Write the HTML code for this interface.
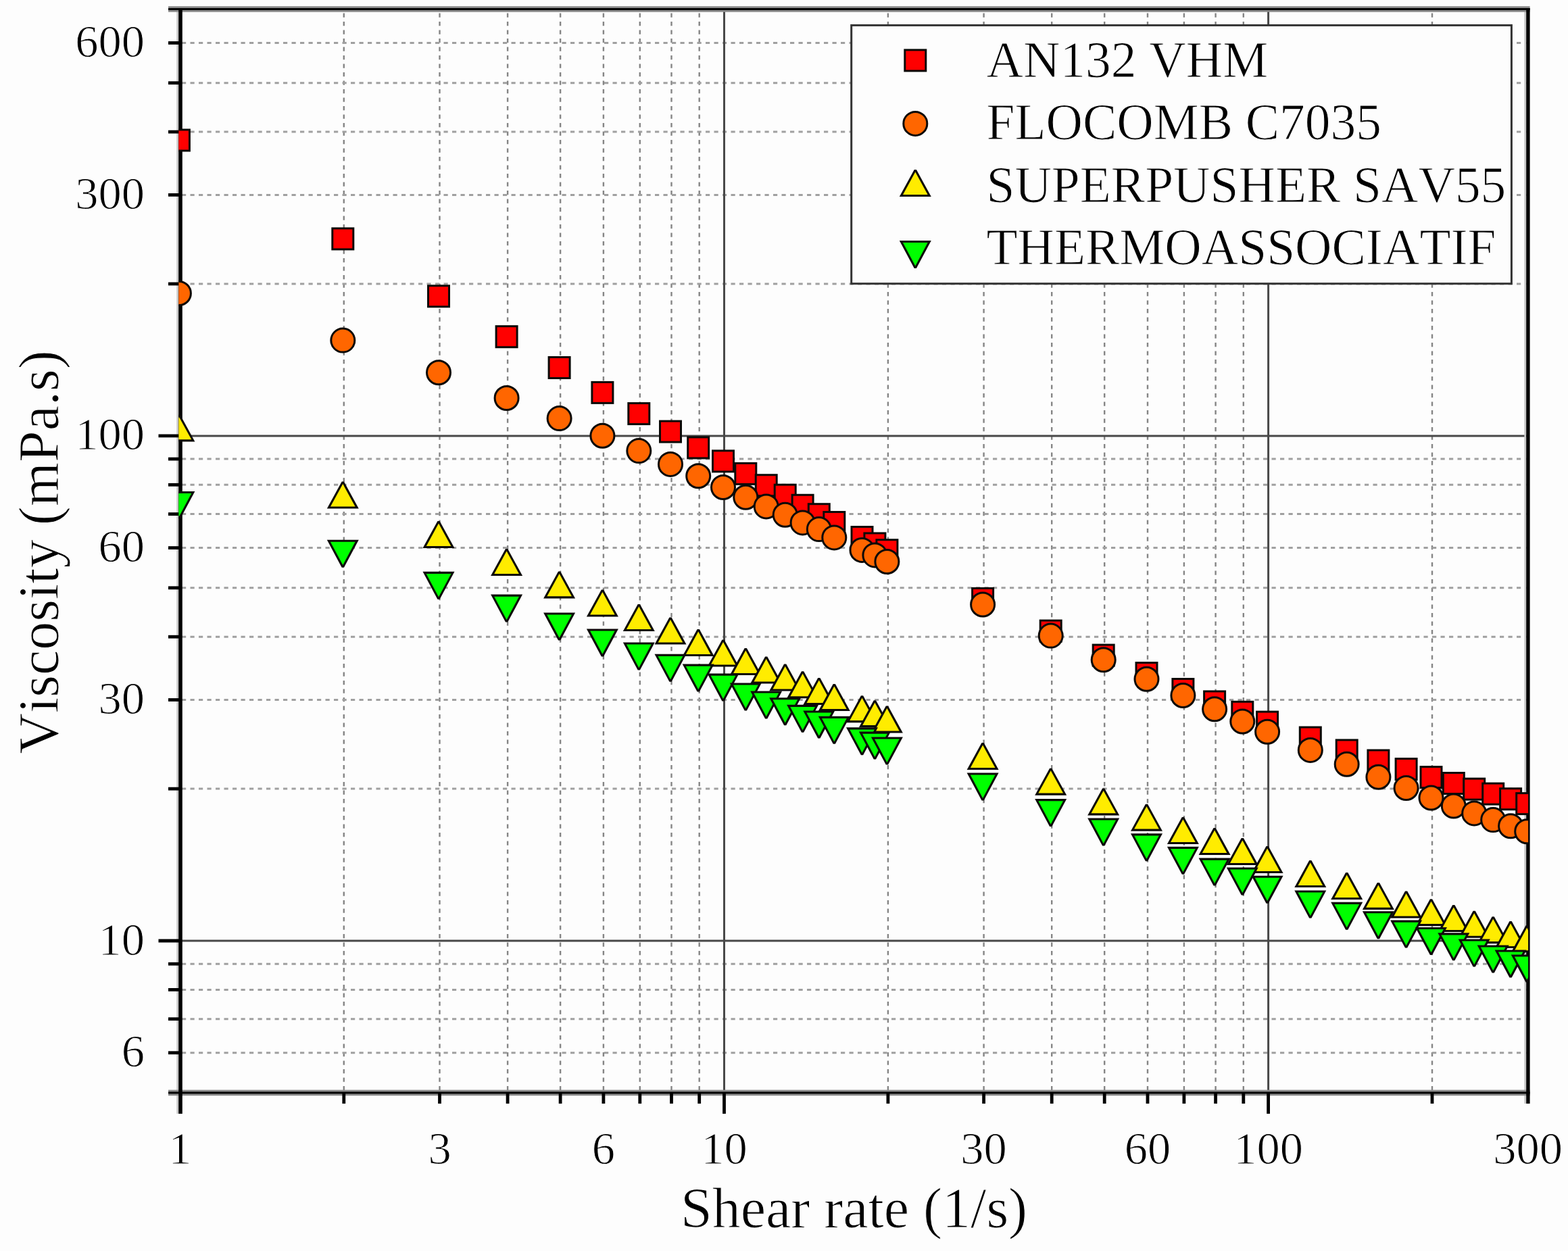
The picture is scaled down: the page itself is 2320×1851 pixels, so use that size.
<!DOCTYPE html>
<html lang="en">
<head>
<meta charset="utf-8">
<title>Viscosity vs shear rate</title>
<style>
html,body{margin:0;padding:0;background:#fdfdfd;}
body{width:2320px;height:1851px;overflow:hidden;font-family:"Liberation Serif",serif;}
svg{display:block;}
#ticklabels,#xtitle,#ytitle,#legtext{filter:none;}
</style>
</head>
<body>
<div id="chart">
<svg width="2320" height="1851" viewBox="0 0 2320 1851" font-family="'Liberation Serif', serif" fill="#000" style="font-kerning:none">
<style>text{stroke:#fdfdfd;stroke-width:1.0px;stroke-linejoin:round}</style>
<rect width="2320" height="1851" fill="#fdfdfd"/>
<defs><clipPath id="pc"><rect x="264.4" y="13.5" width="1996.7" height="1603.4"/></clipPath></defs>
<g id="grid"><g stroke="#858585" stroke-width="2.4" stroke-dasharray="6.2 6.3" fill="none"><line x1="508.8" y1="19.5" x2="508.8" y2="1616.9"/><line x1="650.5" y1="19.5" x2="650.5" y2="1616.9"/><line x1="751.1" y1="19.5" x2="751.1" y2="1616.9"/><line x1="829.1" y1="19.5" x2="829.1" y2="1616.9"/><line x1="892.9" y1="19.5" x2="892.9" y2="1616.9"/><line x1="946.8" y1="19.5" x2="946.8" y2="1616.9"/><line x1="993.5" y1="19.5" x2="993.5" y2="1616.9"/><line x1="1034.7" y1="19.5" x2="1034.7" y2="1616.9"/><line x1="1313.9" y1="19.5" x2="1313.9" y2="1616.9"/><line x1="1455.6" y1="19.5" x2="1455.6" y2="1616.9"/><line x1="1556.2" y1="19.5" x2="1556.2" y2="1616.9"/><line x1="1634.2" y1="19.5" x2="1634.2" y2="1616.9"/><line x1="1698" y1="19.5" x2="1698" y2="1616.9"/><line x1="1751.9" y1="19.5" x2="1751.9" y2="1616.9"/><line x1="1798.6" y1="19.5" x2="1798.6" y2="1616.9"/><line x1="1839.8" y1="19.5" x2="1839.8" y2="1616.9"/><line x1="2119" y1="19.5" x2="2119" y2="1616.9"/></g><g stroke="#a0a0a0" stroke-width="3.0" stroke-dasharray="6.2 6.3" fill="none"><line x1="269" y1="1557.7" x2="2260.8" y2="1557.7"/><line x1="269" y1="1507.7" x2="2260.8" y2="1507.7"/><line x1="269" y1="1464.4" x2="2260.8" y2="1464.4"/><line x1="269" y1="1426.2" x2="2260.8" y2="1426.2"/><line x1="269" y1="1167.1" x2="2260.8" y2="1167.1"/><line x1="269" y1="1035.5" x2="2260.8" y2="1035.5"/><line x1="269" y1="942.2" x2="2260.8" y2="942.2"/><line x1="269" y1="869.8" x2="2260.8" y2="869.8"/><line x1="269" y1="810.6" x2="2260.8" y2="810.6"/><line x1="269" y1="760.6" x2="2260.8" y2="760.6"/><line x1="269" y1="717.3" x2="2260.8" y2="717.3"/><line x1="269" y1="679.1" x2="2260.8" y2="679.1"/><line x1="269" y1="420" x2="2260.8" y2="420"/><line x1="269" y1="288.4" x2="2260.8" y2="288.4"/><line x1="269" y1="195.1" x2="2260.8" y2="195.1"/><line x1="269" y1="122.7" x2="2260.8" y2="122.7"/><line x1="269" y1="63.5" x2="2260.8" y2="63.5"/></g><g stroke="#484848" stroke-width="3" fill="none"><line x1="1071.5" y1="13.5" x2="1071.5" y2="1616.9"/><line x1="267" y1="1392" x2="2260.8" y2="1392"/><line x1="1876.6" y1="13.5" x2="1876.6" y2="1616.9"/><line x1="267" y1="644.9" x2="2260.8" y2="644.9"/></g></g>
<g id="axes"><rect x="261.4" y="13.5" width="2.9" height="1634.4" fill="#c6c6c6"/><rect x="2255.3" y="13.5" width="2.9" height="1619.4" fill="#c6c6c6"/><rect x="249" y="9.2" width="2014.6" height="8.6" fill="#8c8c8c"/><rect x="249" y="12" width="2014.6" height="3" fill="#000"/><rect x="249" y="1612.6" width="2014.6" height="8.6" fill="#8c8c8c"/><rect x="249" y="1615.4" width="2014.6" height="3" fill="#000"/><rect x="264.2" y="12" width="5.6" height="1635.9" fill="#000"/><rect x="2258.2" y="12" width="5.4" height="1620.9" fill="#000"/><g stroke="#000" stroke-width="4.8" fill="none"><line x1="249" y1="1557.7" x2="267" y2="1557.7"/><line x1="249" y1="1507.7" x2="267" y2="1507.7"/><line x1="249" y1="1464.4" x2="267" y2="1464.4"/><line x1="249" y1="1426.2" x2="267" y2="1426.2"/><line x1="249" y1="1167.1" x2="267" y2="1167.1"/><line x1="249" y1="1035.5" x2="267" y2="1035.5"/><line x1="249" y1="942.2" x2="267" y2="942.2"/><line x1="249" y1="869.8" x2="267" y2="869.8"/><line x1="249" y1="810.6" x2="267" y2="810.6"/><line x1="249" y1="760.6" x2="267" y2="760.6"/><line x1="249" y1="717.3" x2="267" y2="717.3"/><line x1="249" y1="679.1" x2="267" y2="679.1"/><line x1="249" y1="420" x2="267" y2="420"/><line x1="249" y1="288.4" x2="267" y2="288.4"/><line x1="249" y1="195.1" x2="267" y2="195.1"/><line x1="249" y1="122.7" x2="267" y2="122.7"/><line x1="249" y1="63.5" x2="267" y2="63.5"/><line x1="234.5" y1="1392" x2="267" y2="1392"/><line x1="234.5" y1="644.9" x2="267" y2="644.9"/><line x1="508.8" y1="1616.9" x2="508.8" y2="1632.9"/><line x1="650.5" y1="1616.9" x2="650.5" y2="1632.9"/><line x1="751.1" y1="1616.9" x2="751.1" y2="1632.9"/><line x1="829.1" y1="1616.9" x2="829.1" y2="1632.9"/><line x1="892.9" y1="1616.9" x2="892.9" y2="1632.9"/><line x1="946.8" y1="1616.9" x2="946.8" y2="1632.9"/><line x1="993.5" y1="1616.9" x2="993.5" y2="1632.9"/><line x1="1034.7" y1="1616.9" x2="1034.7" y2="1632.9"/><line x1="1313.9" y1="1616.9" x2="1313.9" y2="1632.9"/><line x1="1455.6" y1="1616.9" x2="1455.6" y2="1632.9"/><line x1="1556.2" y1="1616.9" x2="1556.2" y2="1632.9"/><line x1="1634.2" y1="1616.9" x2="1634.2" y2="1632.9"/><line x1="1698" y1="1616.9" x2="1698" y2="1632.9"/><line x1="1751.9" y1="1616.9" x2="1751.9" y2="1632.9"/><line x1="1798.6" y1="1616.9" x2="1798.6" y2="1632.9"/><line x1="1839.8" y1="1616.9" x2="1839.8" y2="1632.9"/><line x1="2119" y1="1616.9" x2="2119" y2="1632.9"/><line x1="1071.5" y1="1616.9" x2="1071.5" y2="1647.9"/><line x1="1876.6" y1="1616.9" x2="1876.6" y2="1647.9"/></g></g>
<g id="data" clip-path="url(#pc)"><rect x="249.4" y="192" width="31" height="31" fill="#ff0000" stroke="#0c0a08" stroke-width="3.0"/><rect x="491.8" y="337.9" width="31" height="31" fill="#ff0000" stroke="#0c0a08" stroke-width="3.0"/><rect x="633.5" y="422.8" width="31" height="31" fill="#ff0000" stroke="#0c0a08" stroke-width="3.0"/><rect x="734.1" y="482.7" width="31" height="31" fill="#ff0000" stroke="#0c0a08" stroke-width="3.0"/><rect x="812.1" y="528.5" width="31" height="31" fill="#ff0000" stroke="#0c0a08" stroke-width="3.0"/><rect x="875.9" y="565.4" width="31" height="31" fill="#ff0000" stroke="#0c0a08" stroke-width="3.0"/><rect x="929.8" y="596.6" width="31" height="31" fill="#ff0000" stroke="#0c0a08" stroke-width="3.0"/><rect x="976.5" y="623.1" width="31" height="31" fill="#ff0000" stroke="#0c0a08" stroke-width="3.0"/><rect x="1017.7" y="646.9" width="31" height="31" fill="#ff0000" stroke="#0c0a08" stroke-width="3.0"/><rect x="1054.5" y="666.9" width="31" height="31" fill="#ff0000" stroke="#0c0a08" stroke-width="3.0"/><rect x="1087.8" y="685.4" width="31" height="31" fill="#ff0000" stroke="#0c0a08" stroke-width="3.0"/><rect x="1118.2" y="702.7" width="31" height="31" fill="#ff0000" stroke="#0c0a08" stroke-width="3.0"/><rect x="1146.2" y="717.2" width="31" height="31" fill="#ff0000" stroke="#0c0a08" stroke-width="3.0"/><rect x="1172.1" y="732.3" width="31" height="31" fill="#ff0000" stroke="#0c0a08" stroke-width="3.0"/><rect x="1196.3" y="745.7" width="31" height="31" fill="#ff0000" stroke="#0c0a08" stroke-width="3.0"/><rect x="1218.8" y="757.5" width="31" height="31" fill="#ff0000" stroke="#0c0a08" stroke-width="3.0"/><rect x="1260" y="779.5" width="31" height="31" fill="#ff0000" stroke="#0c0a08" stroke-width="3.0"/><rect x="1278.9" y="788.9" width="31" height="31" fill="#ff0000" stroke="#0c0a08" stroke-width="3.0"/><rect x="1296.9" y="798.7" width="31" height="31" fill="#ff0000" stroke="#0c0a08" stroke-width="3.0"/><rect x="1438.6" y="870.4" width="31" height="31" fill="#ff0000" stroke="#0c0a08" stroke-width="3.0"/><rect x="1539.2" y="918.1" width="31" height="31" fill="#ff0000" stroke="#0c0a08" stroke-width="3.0"/><rect x="1617.2" y="954.1" width="31" height="31" fill="#ff0000" stroke="#0c0a08" stroke-width="3.0"/><rect x="1681" y="980.6" width="31" height="31" fill="#ff0000" stroke="#0c0a08" stroke-width="3.0"/><rect x="1734.9" y="1004.5" width="31" height="31" fill="#ff0000" stroke="#0c0a08" stroke-width="3.0"/><rect x="1781.6" y="1022.9" width="31" height="31" fill="#ff0000" stroke="#0c0a08" stroke-width="3.0"/><rect x="1822.8" y="1038.3" width="31" height="31" fill="#ff0000" stroke="#0c0a08" stroke-width="3.0"/><rect x="1859.6" y="1053.1" width="31" height="31" fill="#ff0000" stroke="#0c0a08" stroke-width="3.0"/><rect x="1923.3" y="1076" width="31" height="31" fill="#ff0000" stroke="#0c0a08" stroke-width="3.0"/><rect x="1977.2" y="1094.9" width="31" height="31" fill="#ff0000" stroke="#0c0a08" stroke-width="3.0"/><rect x="2023.9" y="1110" width="31" height="31" fill="#ff0000" stroke="#0c0a08" stroke-width="3.0"/><rect x="2065.1" y="1122.6" width="31" height="31" fill="#ff0000" stroke="#0c0a08" stroke-width="3.0"/><rect x="2102" y="1134.6" width="31" height="31" fill="#ff0000" stroke="#0c0a08" stroke-width="3.0"/><rect x="2135.3" y="1143.5" width="31" height="31" fill="#ff0000" stroke="#0c0a08" stroke-width="3.0"/><rect x="2165.7" y="1152.1" width="31" height="31" fill="#ff0000" stroke="#0c0a08" stroke-width="3.0"/><rect x="2193.7" y="1159.1" width="31" height="31" fill="#ff0000" stroke="#0c0a08" stroke-width="3.0"/><rect x="2219.6" y="1166.7" width="31" height="31" fill="#ff0000" stroke="#0c0a08" stroke-width="3.0"/><rect x="2243.7" y="1173.6" width="31" height="31" fill="#ff0000" stroke="#0c0a08" stroke-width="3.0"/><circle cx="264.9" cy="434" r="17.5" fill="#ff6600" stroke="#0c0a08" stroke-width="3.0"/><circle cx="507.3" cy="503.6" r="17.5" fill="#ff6600" stroke="#0c0a08" stroke-width="3.0"/><circle cx="649" cy="551.3" r="17.5" fill="#ff6600" stroke="#0c0a08" stroke-width="3.0"/><circle cx="749.6" cy="589" r="17.5" fill="#ff6600" stroke="#0c0a08" stroke-width="3.0"/><circle cx="827.6" cy="619.1" r="17.5" fill="#ff6600" stroke="#0c0a08" stroke-width="3.0"/><circle cx="891.4" cy="644.8" r="17.5" fill="#ff6600" stroke="#0c0a08" stroke-width="3.0"/><circle cx="945.3" cy="667.1" r="17.5" fill="#ff6600" stroke="#0c0a08" stroke-width="3.0"/><circle cx="992" cy="686.9" r="17.5" fill="#ff6600" stroke="#0c0a08" stroke-width="3.0"/><circle cx="1033.2" cy="704.2" r="17.5" fill="#ff6600" stroke="#0c0a08" stroke-width="3.0"/><circle cx="1070" cy="721" r="17.5" fill="#ff6600" stroke="#0c0a08" stroke-width="3.0"/><circle cx="1103.3" cy="735.8" r="17.5" fill="#ff6600" stroke="#0c0a08" stroke-width="3.0"/><circle cx="1133.7" cy="749.4" r="17.5" fill="#ff6600" stroke="#0c0a08" stroke-width="3.0"/><circle cx="1161.7" cy="761.7" r="17.5" fill="#ff6600" stroke="#0c0a08" stroke-width="3.0"/><circle cx="1187.6" cy="773.4" r="17.5" fill="#ff6600" stroke="#0c0a08" stroke-width="3.0"/><circle cx="1211.8" cy="783.1" r="17.5" fill="#ff6600" stroke="#0c0a08" stroke-width="3.0"/><circle cx="1234.3" cy="795.4" r="17.5" fill="#ff6600" stroke="#0c0a08" stroke-width="3.0"/><circle cx="1275.5" cy="813.9" r="17.5" fill="#ff6600" stroke="#0c0a08" stroke-width="3.0"/><circle cx="1294.4" cy="821.4" r="17.5" fill="#ff6600" stroke="#0c0a08" stroke-width="3.0"/><circle cx="1312.4" cy="831" r="17.5" fill="#ff6600" stroke="#0c0a08" stroke-width="3.0"/><circle cx="1454.1" cy="894.5" r="17.5" fill="#ff6600" stroke="#0c0a08" stroke-width="3.0"/><circle cx="1554.7" cy="940.6" r="17.5" fill="#ff6600" stroke="#0c0a08" stroke-width="3.0"/><circle cx="1632.7" cy="976.3" r="17.5" fill="#ff6600" stroke="#0c0a08" stroke-width="3.0"/><circle cx="1696.5" cy="1004.8" r="17.5" fill="#ff6600" stroke="#0c0a08" stroke-width="3.0"/><circle cx="1750.4" cy="1029" r="17.5" fill="#ff6600" stroke="#0c0a08" stroke-width="3.0"/><circle cx="1797.1" cy="1049.3" r="17.5" fill="#ff6600" stroke="#0c0a08" stroke-width="3.0"/><circle cx="1838.3" cy="1067.5" r="17.5" fill="#ff6600" stroke="#0c0a08" stroke-width="3.0"/><circle cx="1875.1" cy="1082.8" r="17.5" fill="#ff6600" stroke="#0c0a08" stroke-width="3.0"/><circle cx="1938.8" cy="1109.9" r="17.5" fill="#ff6600" stroke="#0c0a08" stroke-width="3.0"/><circle cx="1992.7" cy="1130.8" r="17.5" fill="#ff6600" stroke="#0c0a08" stroke-width="3.0"/><circle cx="2039.4" cy="1149.8" r="17.5" fill="#ff6600" stroke="#0c0a08" stroke-width="3.0"/><circle cx="2080.6" cy="1166" r="17.5" fill="#ff6600" stroke="#0c0a08" stroke-width="3.0"/><circle cx="2117.5" cy="1180.5" r="17.5" fill="#ff6600" stroke="#0c0a08" stroke-width="3.0"/><circle cx="2150.8" cy="1192.5" r="17.5" fill="#ff6600" stroke="#0c0a08" stroke-width="3.0"/><circle cx="2181.2" cy="1203.4" r="17.5" fill="#ff6600" stroke="#0c0a08" stroke-width="3.0"/><circle cx="2209.2" cy="1213.1" r="17.5" fill="#ff6600" stroke="#0c0a08" stroke-width="3.0"/><circle cx="2235.1" cy="1222.3" r="17.5" fill="#ff6600" stroke="#0c0a08" stroke-width="3.0"/><circle cx="2259.2" cy="1230.2" r="17.5" fill="#ff6600" stroke="#0c0a08" stroke-width="3.0"/><polygon points="263.3,613.4 266.5,613.4 288.4,653.4 241.4,653.4" fill="#0c0a08"/><polygon points="264.9,616.9 283.2,650.3 246.6,650.3" fill="#ffec00"/><polygon points="505.7,712.6 508.9,712.6 530.8,752.6 483.8,752.6" fill="#0c0a08"/><polygon points="507.3,716.1 525.5,749.5 489,749.5" fill="#ffec00"/><polygon points="647.4,771.1 650.6,771.1 672.5,811.1 625.5,811.1" fill="#0c0a08"/><polygon points="649,774.6 667.3,808 630.8,808" fill="#ffec00"/><polygon points="748,812 751.2,812 773.1,852 726.1,852" fill="#0c0a08"/><polygon points="749.6,815.5 767.9,848.9 731.3,848.9" fill="#ffec00"/><polygon points="826,845.4 829.2,845.4 851.1,885.4 804.1,885.4" fill="#0c0a08"/><polygon points="827.6,848.9 845.9,882.3 809.4,882.3" fill="#ffec00"/><polygon points="889.8,872.5 893,872.5 914.9,912.5 867.9,912.5" fill="#0c0a08"/><polygon points="891.4,876 909.7,909.4 873.1,909.4" fill="#ffec00"/><polygon points="943.7,894 946.9,894 968.8,934 921.8,934" fill="#0c0a08"/><polygon points="945.3,897.5 963.6,930.9 927,930.9" fill="#ffec00"/><polygon points="990.4,913.5 993.6,913.5 1015.5,953.5 968.5,953.5" fill="#0c0a08"/><polygon points="992,917 1010.2,950.4 973.7,950.4" fill="#ffec00"/><polygon points="1031.6,931.1 1034.8,931.1 1056.7,971.1 1009.7,971.1" fill="#0c0a08"/><polygon points="1033.2,934.6 1051.4,968 1014.9,968" fill="#ffec00"/><polygon points="1068.4,946.5 1071.6,946.5 1093.5,986.5 1046.5,986.5" fill="#0c0a08"/><polygon points="1070,950 1088.3,983.4 1051.7,983.4" fill="#ffec00"/><polygon points="1101.7,959 1104.9,959 1126.8,999 1079.8,999" fill="#0c0a08"/><polygon points="1103.3,962.5 1121.6,995.9 1085.1,995.9" fill="#ffec00"/><polygon points="1132.1,971.6 1135.3,971.6 1157.2,1011.6 1110.2,1011.6" fill="#0c0a08"/><polygon points="1133.7,975.1 1152,1008.5 1115.5,1008.5" fill="#ffec00"/><polygon points="1160.1,982.5 1163.3,982.5 1185.2,1022.5 1138.2,1022.5" fill="#0c0a08"/><polygon points="1161.7,986 1180,1019.4 1143.5,1019.4" fill="#ffec00"/><polygon points="1186,993.3 1189.2,993.3 1211.1,1033.3 1164.1,1033.3" fill="#0c0a08"/><polygon points="1187.6,996.8 1205.9,1030.2 1169.4,1030.2" fill="#ffec00"/><polygon points="1210.2,1003 1213.4,1003 1235.3,1043 1188.3,1043" fill="#0c0a08"/><polygon points="1211.8,1006.5 1230,1039.9 1193.5,1039.9" fill="#ffec00"/><polygon points="1232.7,1012 1235.9,1012 1257.8,1052 1210.8,1052" fill="#0c0a08"/><polygon points="1234.3,1015.5 1252.6,1048.9 1216.1,1048.9" fill="#ffec00"/><polygon points="1273.9,1029.2 1277.1,1029.2 1299,1069.2 1252,1069.2" fill="#0c0a08"/><polygon points="1275.5,1032.7 1293.8,1066.1 1257.3,1066.1" fill="#ffec00"/><polygon points="1292.8,1036.2 1296,1036.2 1317.9,1076.2 1270.9,1076.2" fill="#0c0a08"/><polygon points="1294.4,1039.7 1312.7,1073.1 1276.2,1073.1" fill="#ffec00"/><polygon points="1310.8,1044.5 1314,1044.5 1335.9,1084.5 1288.9,1084.5" fill="#0c0a08"/><polygon points="1312.4,1048 1330.6,1081.4 1294.1,1081.4" fill="#ffec00"/><polygon points="1452.5,1099 1455.7,1099 1477.6,1139 1430.6,1139" fill="#0c0a08"/><polygon points="1454.1,1102.5 1472.4,1135.9 1435.9,1135.9" fill="#ffec00"/><polygon points="1553.1,1136.7 1556.3,1136.7 1578.2,1176.7 1531.2,1176.7" fill="#0c0a08"/><polygon points="1554.7,1140.2 1573,1173.6 1536.4,1173.6" fill="#ffec00"/><polygon points="1631.1,1166.4 1634.3,1166.4 1656.2,1206.4 1609.2,1206.4" fill="#0c0a08"/><polygon points="1632.7,1169.9 1651,1203.3 1614.5,1203.3" fill="#ffec00"/><polygon points="1694.9,1189.7 1698.1,1189.7 1720,1229.7 1673,1229.7" fill="#0c0a08"/><polygon points="1696.5,1193.2 1714.8,1226.6 1678.2,1226.6" fill="#ffec00"/><polygon points="1748.8,1209 1752,1209 1773.9,1249 1726.9,1249" fill="#0c0a08"/><polygon points="1750.4,1212.5 1768.7,1245.9 1732.1,1245.9" fill="#ffec00"/><polygon points="1795.5,1225 1798.7,1225 1820.6,1265 1773.6,1265" fill="#0c0a08"/><polygon points="1797.1,1228.5 1815.3,1261.9 1778.8,1261.9" fill="#ffec00"/><polygon points="1836.7,1240 1839.9,1240 1861.8,1280 1814.8,1280" fill="#0c0a08"/><polygon points="1838.3,1243.5 1856.5,1276.9 1820,1276.9" fill="#ffec00"/><polygon points="1873.5,1252 1876.7,1252 1898.6,1292 1851.6,1292" fill="#0c0a08"/><polygon points="1875.1,1255.5 1893.4,1288.9 1856.8,1288.9" fill="#ffec00"/><polygon points="1937.2,1273 1940.4,1273 1962.3,1313 1915.3,1313" fill="#0c0a08"/><polygon points="1938.8,1276.5 1957.1,1309.9 1920.6,1309.9" fill="#ffec00"/><polygon points="1991.1,1291.1 1994.3,1291.1 2016.2,1331.1 1969.2,1331.1" fill="#0c0a08"/><polygon points="1992.7,1294.6 2011,1328 1974.5,1328" fill="#ffec00"/><polygon points="2037.8,1305.9 2041,1305.9 2062.9,1345.9 2015.9,1345.9" fill="#0c0a08"/><polygon points="2039.4,1309.4 2057.7,1342.8 2021.2,1342.8" fill="#ffec00"/><polygon points="2079,1318.5 2082.2,1318.5 2104.1,1358.5 2057.1,1358.5" fill="#0c0a08"/><polygon points="2080.6,1322 2098.9,1355.4 2062.4,1355.4" fill="#ffec00"/><polygon points="2115.9,1330.2 2119.1,1330.2 2141,1370.2 2094,1370.2" fill="#0c0a08"/><polygon points="2117.5,1333.7 2135.7,1367.1 2099.2,1367.1" fill="#ffec00"/><polygon points="2149.2,1339.1 2152.4,1339.1 2174.3,1379.1 2127.3,1379.1" fill="#0c0a08"/><polygon points="2150.8,1342.6 2169.1,1376 2132.5,1376" fill="#ffec00"/><polygon points="2179.6,1347.8 2182.8,1347.8 2204.7,1387.8 2157.7,1387.8" fill="#0c0a08"/><polygon points="2181.2,1351.3 2199.5,1384.7 2162.9,1384.7" fill="#ffec00"/><polygon points="2207.6,1356.2 2210.8,1356.2 2232.7,1396.2 2185.7,1396.2" fill="#0c0a08"/><polygon points="2209.2,1359.7 2227.5,1393.1 2190.9,1393.1" fill="#ffec00"/><polygon points="2233.5,1363.1 2236.7,1363.1 2258.6,1403.1 2211.6,1403.1" fill="#0c0a08"/><polygon points="2235.1,1366.6 2253.4,1400 2216.8,1400" fill="#ffec00"/><polygon points="2257.6,1369.3 2260.8,1369.3 2282.7,1409.3 2235.7,1409.3" fill="#0c0a08"/><polygon points="2259.2,1372.8 2277.5,1406.2 2241,1406.2" fill="#ffec00"/><polygon points="241.4,727 288.4,727 266.5,768 263.3,768" fill="#0c0a08"/><polygon points="246.6,730.1 283.2,730.1 264.9,764.4" fill="#00ff00"/><polygon points="483.8,798.7 530.8,798.7 508.9,839.7 505.7,839.7" fill="#0c0a08"/><polygon points="488.9,801.8 525.6,801.8 507.3,836.1" fill="#00ff00"/><polygon points="625.5,845.8 672.5,845.8 650.6,886.8 647.4,886.8" fill="#0c0a08"/><polygon points="630.7,848.9 667.4,848.9 649,883.2" fill="#00ff00"/><polygon points="726.1,879.6 773.1,879.6 751.2,920.6 748,920.6" fill="#0c0a08"/><polygon points="731.3,882.7 767.9,882.7 749.6,917" fill="#00ff00"/><polygon points="804.1,906.4 851.1,906.4 829.2,947.4 826,947.4" fill="#0c0a08"/><polygon points="809.3,909.5 846,909.5 827.6,943.8" fill="#00ff00"/><polygon points="867.9,930.4 914.9,930.4 893,971.4 889.8,971.4" fill="#0c0a08"/><polygon points="873.1,933.5 909.7,933.5 891.4,967.8" fill="#00ff00"/><polygon points="921.8,950.5 968.8,950.5 946.9,991.5 943.7,991.5" fill="#0c0a08"/><polygon points="927,953.6 963.6,953.6 945.3,987.9" fill="#00ff00"/><polygon points="968.5,967.8 1015.5,967.8 993.6,1008.8 990.4,1008.8" fill="#0c0a08"/><polygon points="973.6,970.9 1010.3,970.9 992,1005.2" fill="#00ff00"/><polygon points="1009.7,982.6 1056.7,982.6 1034.8,1023.6 1031.6,1023.6" fill="#0c0a08"/><polygon points="1014.8,985.7 1051.5,985.7 1033.2,1020" fill="#00ff00"/><polygon points="1046.5,996.6 1093.5,996.6 1071.6,1037.6 1068.4,1037.6" fill="#0c0a08"/><polygon points="1051.7,999.7 1088.3,999.7 1070,1034" fill="#00ff00"/><polygon points="1079.8,1010.5 1126.8,1010.5 1104.9,1051.5 1101.7,1051.5" fill="#0c0a08"/><polygon points="1085,1013.6 1121.7,1013.6 1103.3,1047.9" fill="#00ff00"/><polygon points="1110.2,1022.5 1157.2,1022.5 1135.3,1063.5 1132.1,1063.5" fill="#0c0a08"/><polygon points="1115.4,1025.6 1152.1,1025.6 1133.7,1059.9" fill="#00ff00"/><polygon points="1138.2,1032.2 1185.2,1032.2 1163.3,1073.2 1160.1,1073.2" fill="#0c0a08"/><polygon points="1143.4,1035.3 1180.1,1035.3 1161.7,1069.6" fill="#00ff00"/><polygon points="1164.1,1042.8 1211.1,1042.8 1189.2,1083.8 1186,1083.8" fill="#0c0a08"/><polygon points="1169.3,1045.9 1206,1045.9 1187.6,1080.2" fill="#00ff00"/><polygon points="1188.3,1051.4 1235.3,1051.4 1213.4,1092.4 1210.2,1092.4" fill="#0c0a08"/><polygon points="1193.4,1054.5 1230.1,1054.5 1211.8,1088.8" fill="#00ff00"/><polygon points="1210.8,1059.8 1257.8,1059.8 1235.9,1100.8 1232.7,1100.8" fill="#0c0a08"/><polygon points="1216,1062.9 1252.7,1062.9 1234.3,1097.2" fill="#00ff00"/><polygon points="1252,1076.3 1299,1076.3 1277.1,1117.3 1273.9,1117.3" fill="#0c0a08"/><polygon points="1257.2,1079.4 1293.8,1079.4 1275.5,1113.7" fill="#00ff00"/><polygon points="1270.9,1082.6 1317.9,1082.6 1296,1123.6 1292.8,1123.6" fill="#0c0a08"/><polygon points="1276.1,1085.7 1312.8,1085.7 1294.4,1120" fill="#00ff00"/><polygon points="1288.9,1090.5 1335.9,1090.5 1314,1131.5 1310.8,1131.5" fill="#0c0a08"/><polygon points="1294,1093.6 1330.7,1093.6 1312.4,1127.9" fill="#00ff00"/><polygon points="1430.6,1143.5 1477.6,1143.5 1455.7,1184.5 1452.5,1184.5" fill="#0c0a08"/><polygon points="1435.8,1146.6 1472.5,1146.6 1454.1,1180.9" fill="#00ff00"/><polygon points="1531.2,1182.1 1578.2,1182.1 1556.3,1223.1 1553.1,1223.1" fill="#0c0a08"/><polygon points="1536.4,1185.2 1573,1185.2 1554.7,1219.5" fill="#00ff00"/><polygon points="1609.2,1210.5 1656.2,1210.5 1634.3,1251.5 1631.1,1251.5" fill="#0c0a08"/><polygon points="1614.4,1213.6 1651.1,1213.6 1632.7,1247.9" fill="#00ff00"/><polygon points="1673,1233.3 1720,1233.3 1698.1,1274.3 1694.9,1274.3" fill="#0c0a08"/><polygon points="1678.2,1236.4 1714.8,1236.4 1696.5,1270.7" fill="#00ff00"/><polygon points="1726.9,1252.8 1773.9,1252.8 1752,1293.8 1748.8,1293.8" fill="#0c0a08"/><polygon points="1732.1,1255.9 1768.7,1255.9 1750.4,1290.2" fill="#00ff00"/><polygon points="1773.6,1269.6 1820.6,1269.6 1798.7,1310.6 1795.5,1310.6" fill="#0c0a08"/><polygon points="1778.7,1272.7 1815.4,1272.7 1797.1,1307" fill="#00ff00"/><polygon points="1814.8,1283.5 1861.8,1283.5 1839.9,1324.5 1836.7,1324.5" fill="#0c0a08"/><polygon points="1819.9,1286.6 1856.6,1286.6 1838.3,1320.9" fill="#00ff00"/><polygon points="1851.6,1295.7 1898.6,1295.7 1876.7,1336.7 1873.5,1336.7" fill="#0c0a08"/><polygon points="1856.8,1298.8 1893.4,1298.8 1875.1,1333.1" fill="#00ff00"/><polygon points="1915.3,1317.5 1962.3,1317.5 1940.4,1358.5 1937.2,1358.5" fill="#0c0a08"/><polygon points="1920.5,1320.6 1957.2,1320.6 1938.8,1354.9" fill="#00ff00"/><polygon points="1969.2,1334.8 2016.2,1334.8 1994.3,1375.8 1991.1,1375.8" fill="#0c0a08"/><polygon points="1974.4,1337.9 2011.1,1337.9 1992.7,1372.2" fill="#00ff00"/><polygon points="2015.9,1348.2 2062.9,1348.2 2041,1389.2 2037.8,1389.2" fill="#0c0a08"/><polygon points="2021.1,1351.3 2057.8,1351.3 2039.4,1385.6" fill="#00ff00"/><polygon points="2057.1,1361.6 2104.1,1361.6 2082.2,1402.6 2079,1402.6" fill="#0c0a08"/><polygon points="2062.3,1364.7 2098.9,1364.7 2080.6,1399" fill="#00ff00"/><polygon points="2094,1371.9 2141,1371.9 2119.1,1412.9 2115.9,1412.9" fill="#0c0a08"/><polygon points="2099.1,1375 2135.8,1375 2117.5,1409.3" fill="#00ff00"/><polygon points="2127.3,1380.3 2174.3,1380.3 2152.4,1421.3 2149.2,1421.3" fill="#0c0a08"/><polygon points="2132.5,1383.4 2169.1,1383.4 2150.8,1417.7" fill="#00ff00"/><polygon points="2157.7,1389.5 2204.7,1389.5 2182.8,1430.5 2179.6,1430.5" fill="#0c0a08"/><polygon points="2162.9,1392.6 2199.5,1392.6 2181.2,1426.9" fill="#00ff00"/><polygon points="2185.7,1398.5 2232.7,1398.5 2210.8,1439.5 2207.6,1439.5" fill="#0c0a08"/><polygon points="2190.9,1401.6 2227.5,1401.6 2209.2,1435.9" fill="#00ff00"/><polygon points="2211.6,1405.4 2258.6,1405.4 2236.7,1446.4 2233.5,1446.4" fill="#0c0a08"/><polygon points="2216.8,1408.5 2253.4,1408.5 2235.1,1442.8" fill="#00ff00"/><polygon points="2235.7,1412.4 2282.7,1412.4 2260.8,1453.4 2257.6,1453.4" fill="#0c0a08"/><polygon points="2240.9,1415.5 2277.6,1415.5 2259.2,1449.8" fill="#00ff00"/></g>
<g id="ticklabels" font-size="68.5"><text x="214" y="84" text-anchor="end">600</text><text x="214" y="308.9" text-anchor="end">300</text><text x="214" y="665.4" text-anchor="end">100</text><text x="214" y="831.1" text-anchor="end">60</text><text x="214" y="1056" text-anchor="end">30</text><text x="214" y="1412.5" text-anchor="end">10</text><text x="214" y="1578.2" text-anchor="end">6</text><text x="266.4" y="1721.5" text-anchor="middle">1</text><text x="650.5" y="1721.5" text-anchor="middle">3</text><text x="892.9" y="1721.5" text-anchor="middle">6</text><text x="1071.5" y="1721.5" text-anchor="middle">10</text><text x="1455.6" y="1721.5" text-anchor="middle">30</text><text x="1698" y="1721.5" text-anchor="middle">60</text><text x="1876.6" y="1721.5" text-anchor="middle">100</text><text x="2260.7" y="1721.5" text-anchor="middle">300</text></g>
<text id="xtitle" x="1263.5" y="1815.5" font-size="84" text-anchor="middle">Shear rate (1/s)</text>
<text id="ytitle" transform="translate(85.5,817) rotate(-90)" font-size="84" text-anchor="middle">Viscosity (mPa.s)</text>
<g id="legend"><rect x="1259.7" y="37.4" width="976.7" height="382.3" fill="#fdfdfd" stroke="#333" stroke-width="3"/><rect x="1338.8" y="73.9" width="31" height="31" fill="#ff0000" stroke="#0c0a08" stroke-width="3.0"/><circle cx="1354.3" cy="182.9" r="17.5" fill="#ff6600" stroke="#0c0a08" stroke-width="3.0"/><polygon points="1352.7,251 1355.9,251 1377.8,291 1330.8,291" fill="#0c0a08"/><polygon points="1354.3,254.5 1372.6,287.9 1336,287.9" fill="#ffec00"/><polygon points="1330.8,356 1377.8,356 1355.9,397 1352.7,397" fill="#0c0a08"/><polygon points="1336,359.1 1372.6,359.1 1354.3,393.4" fill="#00ff00"/><g id="legtext"><text x="1459.5" y="113.5" font-size="75.4">AN132 VHM</text><text x="1459.5" y="206.1" font-size="75.4">FLOCOMB C7035</text><text x="1459.5" y="298.7" font-size="75.4">SUPERPUSHER SAV55</text><text x="1459.5" y="391.3" font-size="75.4">THERMOASSOCIATIF</text></g></g>
</svg>
</div>
</body>
</html>
